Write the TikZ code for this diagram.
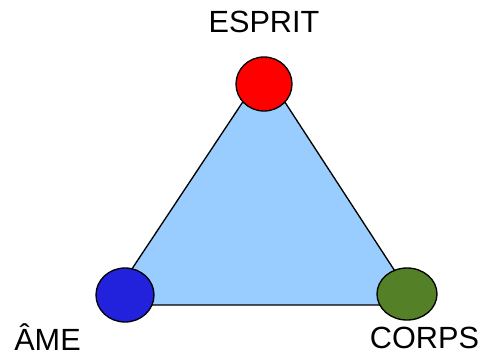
\documentclass[tikz,border=0pt]{standalone}
\usepackage{tikz}
\usepackage{fontspec}
\setmainfont{Liberation Sans}
\usetikzlibrary{shapes}
\definecolor{triblue}{RGB}{153,204,255}
\definecolor{soulblue}{RGB}{34,34,221}
\definecolor{bodygreen}{RGB}{84,128,40}
\tikzset{
  blob/.style={draw, ellipse, line width=1pt, inner sep=0pt},
  word/.style={font=\fontsize{23}{27}\selectfont, inner sep=0pt, anchor=base}
}

\begin{document}
\begin{tikzpicture}[x=0.75pt,y=0.75pt,yscale=-1,xscale=1]
\useasboundingbox (0,0) rectangle (486,358);

%Shape: Triangle
\coordinate (top) at (264,70);
\coordinate (left) at (108,305);
\coordinate (right) at (417,305);
\draw [fill=triblue, line width=1pt, line join=round] (top) -- (left) -- (right) -- cycle ;

%Shape: Ellipse
\node [blob, fill=red, minimum width=42pt, minimum height=40.5pt] (esprit) at (264,84) {};
%Shape: Ellipse
\node [blob, fill=soulblue, minimum width=43.5pt, minimum height=40.5pt] (ame) at (125,295) {};
%Shape: Ellipse
\node [blob, fill=bodygreen, minimum width=45pt, minimum height=39pt] (corps) at (407,294) {};

% Text Node
\draw (264,32) node [word] (tesprit) {ESPRIT};
% Text Node
\draw (47.5,350) node [word] (tame) {ÂME};
% Text Node
\draw (424.5,348) node [word] (tcorps) {CORPS};

\end{tikzpicture}
\end{document}
